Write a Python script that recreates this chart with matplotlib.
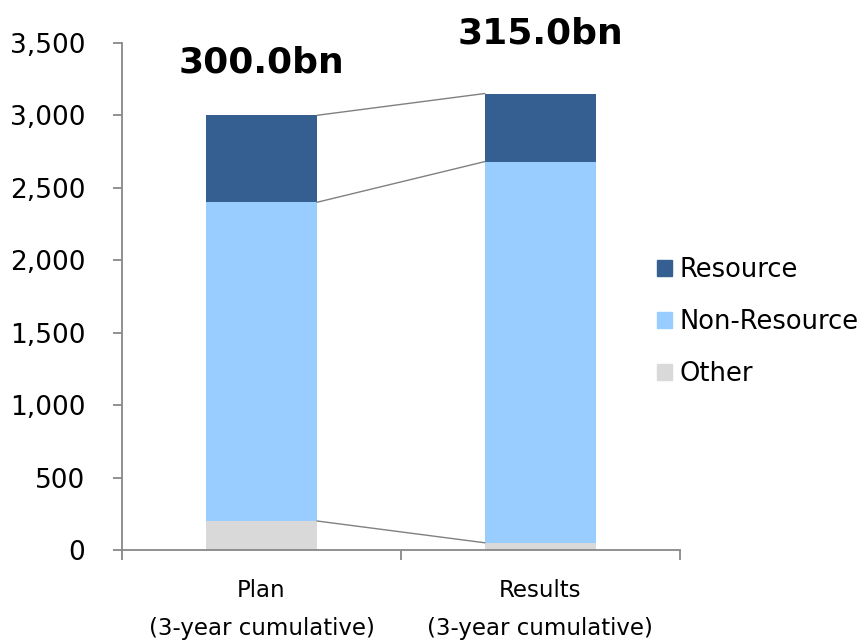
import matplotlib
matplotlib.use("Agg")
import matplotlib.pyplot as plt
from matplotlib.patches import Patch

categories = ["Plan\n(3-year cumulative)", "Results\n(3-year cumulative)"]
other = [200, 50]
non_resource = [2200, 2630]
resource = [600, 470]
totals_label = ["300.0bn", "315.0bn"]
series_names = ["Resource", "Non-Resource", "Other"]
colors = {"Resource": "#355F91", "Non-Resource": "#99CCFF", "Other": "#D9D9D9"}

plt.rcParams['font.family'] = ['Verdana', 'DejaVu Sans']
fig = plt.figure(figsize=(8.65, 6.42), dpi=100)
ax = fig.add_axes([0.141, 0.1433, 0.645, 0.79])

x = list(range(len(categories)))
w = 0.4
b1 = other
b2 = [o + n for o, n in zip(other, non_resource)]
tops = [a + r for a, r in zip(b2, resource)]
ax.bar(x, other, w, color=colors["Other"], zorder=2)
ax.bar(x, non_resource, w, bottom=b1, color=colors["Non-Resource"], zorder=2)
ax.bar(x, resource, w, bottom=b2, color=colors["Resource"], zorder=2)

# connector lines
for levels in (b1, b2, tops):
    ax.plot([x[0] + w / 2, x[1] - w / 2], [levels[0], levels[1]], color="#808080", lw=1, zorder=3)

label_offsets = [31, 36]
for xi, t, lab, off in zip(x, tops, totals_label, label_offsets):
    ax.annotate(lab, (xi, t), xytext=(0, off), textcoords="offset points", ha="center",
                va="baseline", fontsize=26, fontweight="bold", annotation_clip=False)

ax.set_xlim(-0.5, 1.5)
ax.set_ylim(0, 3500)
ax.set_yticks(range(0, 3501, 500))
ax.set_yticklabels([f"{v:,}" for v in range(0, 3501, 500)], fontsize=19)
ax.set_xticks(x)
ax.set_xticklabels(categories, fontsize=16.5, linespacing=1.85)
ax.tick_params(axis='x', length=0, pad=21)
ax.set_xticks([-0.5, 0.5, 1.5], minor=True)
ax.tick_params(axis='x', which='minor', length=7, color="#888888", width=1.3)
ax.tick_params(axis='y', length=6.5, color="#888888", width=1.3, pad=20)
for s in ("top", "right"):
    ax.spines[s].set_visible(False)
for s in ("left", "bottom"):
    ax.spines[s].set_color("#888888")
    ax.spines[s].set_linewidth(1.3)

handles = [Patch(color=colors[n]) for n in series_names]
fig.legend(handles, series_names, loc="center left", bbox_to_anchor=(0.7595, 0.4984),
           frameon=False, fontsize=18.5, handlelength=0.6, handleheight=0.6,
           handletextpad=0.26, labelspacing=1.0, borderpad=0, borderaxespad=0)

fig.savefig("out.png", dpi=100)
